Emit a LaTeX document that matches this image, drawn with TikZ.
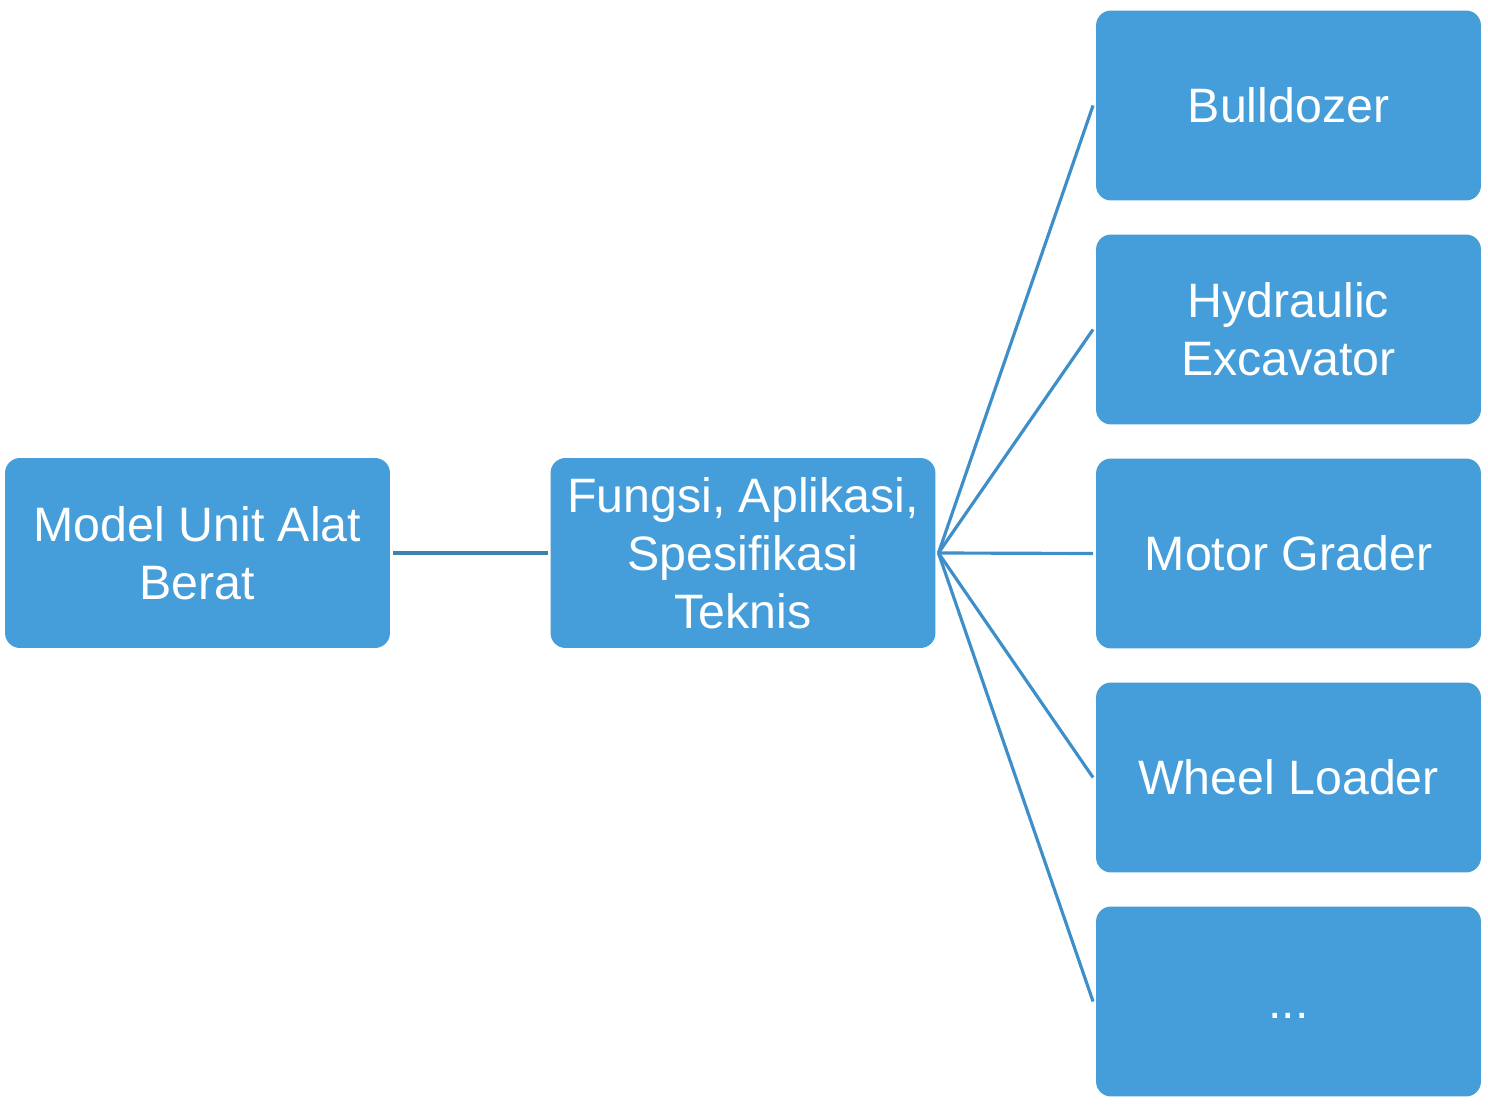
\documentclass[tikz,border=0pt]{standalone}
\usepackage{fontspec}
\setmainfont{Liberation Sans}
\usetikzlibrary{positioning}

\definecolor{unitfill}{HTML}{459DDA}
\definecolor{unitline}{HTML}{3B82B4}
\definecolor{fanline}{HTML}{3E8FC9}

\tikzset{
  unit/.style={rectangle,rounded corners=0.3cm,fill=unitfill,text=white,
    minimum width=7.7cm,minimum height=3.8cm,inner sep=0pt,outer sep=0.06cm,
    align=center,font=\fontsize{27.5}{33}\selectfont},
  fan/.style={fanline,line width=1.8pt},
}

\begin{document}
\begin{tikzpicture}[x=0.02cm,y=-0.02cm]
  % frame of the picture
  \useasboundingbox (0,0) rectangle (1488,1114);
  % main boxes
  \node[unit] (model) at (197.5,553)  {Model Unit Alat\\Berat};
  \node[unit] (fungsi) at (743,553)   {Fungsi, Aplikasi,\\Spesifikasi\\Teknis};
  % unit types
  \node[unit] (dozer)   at (1288.5,105.5)  {Bulldozer};
  \node[unit] (excav)   at (1288.5,329.5)  {Hydraulic\\Excavator};
  \node[unit] (grader)  at (1288.5,553.5)  {Motor Grader};
  \node[unit] (loader)  at (1288.5,777.5)  {Wheel Loader};
  \node[unit] (more)    at (1288.5,1001.5) {\vphantom{X}...};
  % connectors
  \draw[unitline,line width=2.2pt] (model.east) -- (fungsi.west);
  \draw[fan] (fungsi.east) -- (dozer.west);
  \draw[fan] (fungsi.east) -- (excav.west);
  \draw[fan] (fungsi.east) -- (grader.west);
  \draw[fan] (fungsi.east) -- (loader.west);
  \draw[fan] (fungsi.east) -- (more.west);
\end{tikzpicture}
\end{document}
